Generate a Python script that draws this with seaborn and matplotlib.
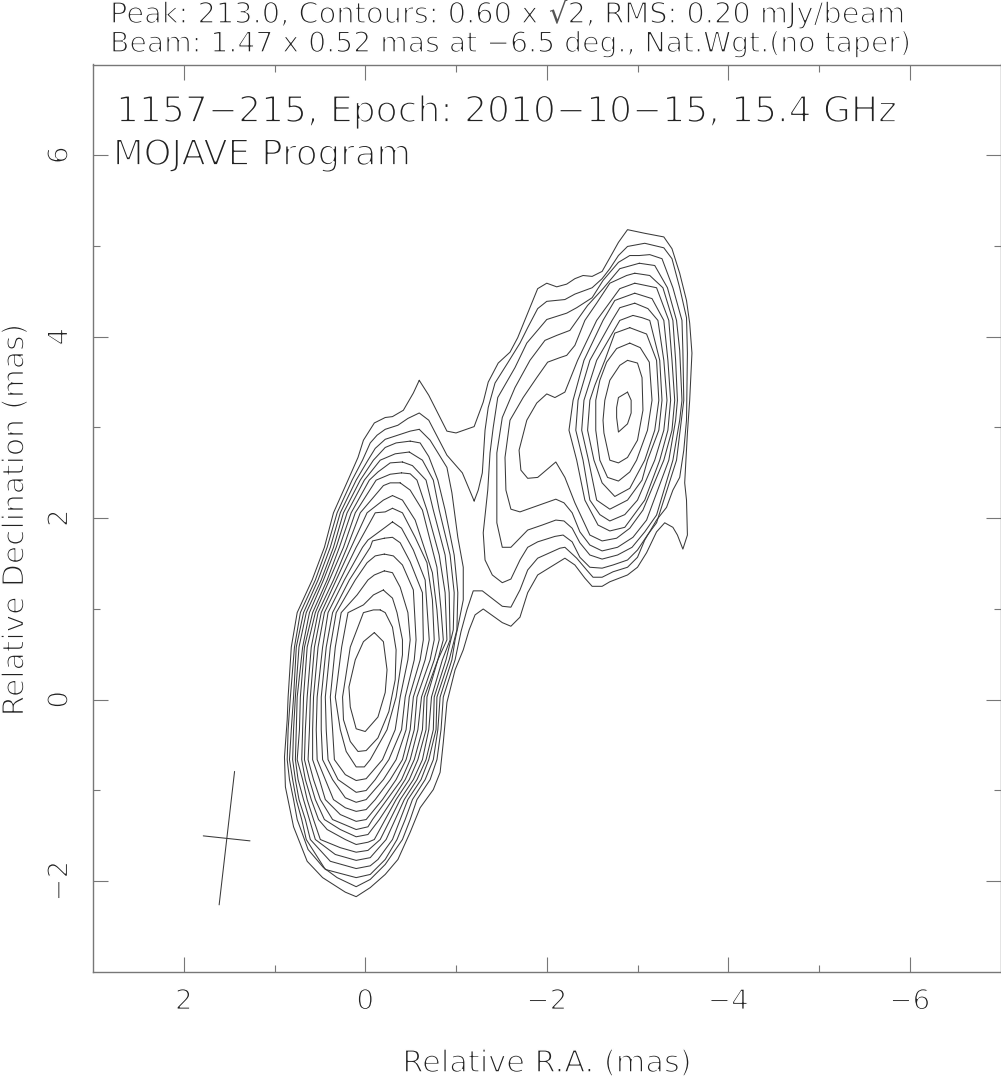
import matplotlib
matplotlib.use("Agg")
import matplotlib.pyplot as plt
import matplotlib.patheffects as pe
from matplotlib.ticker import FixedLocator
import seaborn as sns

# contour outlines, relative R.A. and Dec in mas
# core rings, innermost first
core01_ra = [-0.10, -0.20, -0.24, -0.22, -0.14, 0.00, 0.10, 0.165, 0.18, 0.11, 0.02]
core01_dec = [0.74, 0.64, 0.33, 0.08, -0.19, -0.35, -0.32, -0.08, 0.14, 0.44, 0.64]
core02_ra = [-.165, -.09, .02, .165, .25, .24, .165, .08, -.01, -.14, -.26, -.33, -.34, -.30, -.22]
core02_dec = [.99, .99, .96, .58, .03, -.22, -.46, -.57, -.56, -.42, -.13, .22, .55, .80, .96]
core03_ra = [-.20, -.09, .02, .19, .26, .33, .275, .21, .10, .01, -.055, -.24, -.34, -.41, -.41, -.35, -.30, -.22]
core03_dec = [1.21, 1.155, 1.045, .96, .58, .03, -.33, -.57, -.74, -.74, -.66, -.33, .03, .495, .66, .96, 1.12, 1.19]
core04_ra = [-.21, -.10, -.03, .09, .265, .33, .385, .36, .34, .22, .10, -.01, -.19, -.33, -.385, -.47, -.495, -.47, -.385, -.30]
core04_dec = [1.42, 1.375, 1.32, 1.155, .96, .58, .03, -.33, -.66, -.825, -.89, -.87, -.66, -.33, .03, .44, .66, .96, 1.24, 1.40]
core05_ra = [-.21, -.11, -.02, .11, .32, .385, .44, .43, .41, .30, .10, -.01, -.11, -.26, -.40, -.44, -.54, -.56, -.53, -.41, -.31]
core05_dec = [1.605, 1.585, 1.51, 1.32, .96, .58, .03, -.33, -.66, -.88, -1.02, -1.00, -.88, -.66, -.33, .03, .44, .66, 1.21, 1.485, 1.585]
core06_ra = [-.21, -.08, -.055, .175, .36, .43, .485, .485, .47, .36, .22, .10, -.01, -.20, -.34, -.45, -.485, -.605, -.64, -.63, -.495, -.385, -.30]
core06_dec = [1.78, 1.75, 1.68, 1.32, .96, .58, .03, -.33, -.66, -.88, -1.08, -1.13, -1.10, -.88, -.66, -.33, .03, .44, .66, 1.18, 1.52, 1.73, 1.79]
core07_ra = [-.30, -.22, -.03, .03, .23, .41, .47, .53, .54, .53, .44, .35, .22, .10, -.01, -.11, -.275, -.41, -.495, -.53, -.66, -.705, -.66, -.53, -.40]
core07_dec = [1.96, 1.90, 1.76, 1.68, 1.32, .96, .58, .03, -.33, -.66, -.88, -1.10, -1.19, -1.23, -1.21, -1.10, -.88, -.66, -.33, .03, .44, .66, 1.32, 1.65, 1.89]
core08_ra = [-.30, -.22, -.11, .10, .275, .45, .52, .57, .58, .58, .505, .44, .275, .10, -.01, -.19, -.34, -.45, -.54, -.57, -.715, -.76, -.74, -.68, -.55, -.41]
core08_dec = [2.11, 2.07, 2.06, 1.68, 1.32, .96, .58, .03, -.33, -.66, -.88, -1.10, -1.265, -1.34, -1.32, -1.10, -.88, -.66, -.33, .03, .44, .66, 1.10, 1.51, 1.79, 2.06]
core09_ra = [-.30, -.20, -.02, .155, .32, .485, .56, .605, .615, .63, .57, .495, .36, .10, -.03, -.08, -.24, -.40, -.495, -.58, -.62, -.76, -.815, -.79, -.74, -.55, -.41]
core09_dec = [2.25, 2.20, 2.06, 1.68, 1.32, .96, .58, .03, -.33, -.66, -.88, -1.10, -1.32, -1.43, -1.40, -1.32, -1.10, -.88, -.66, -.33, .03, .44, .66, .99, 1.40, 1.98, 2.20]
core10_ra = [-.385, -.275, -.20, .055, .20, .35, .52, .595, .64, .66, .67, .615, .55, .45, .275, .10, -.03, -.155, -.30, -.44, -.54, -.63, -.65, -.80, -.86, -.835, -.79, -.63, -.495]
core10_dec = [2.39, 2.39, 2.36, 2.06, 1.68, 1.32, .96, .58, .03, -.33, -.66, -.88, -1.10, -1.32, -1.43, -1.51, -1.485, -1.32, -1.10, -.88, -.66, -.33, .03, .44, .66, .99, 1.46, 2.09, 2.31]
core11_ra = [-.40, -.275, -.12, .11, .24, .395, .55, .64, .68, .69, .70, .66, .595, .515, .42, .22, .10, -.03, -.10, -.22, -.34, -.485, -.58, -.67, -.68, -.80, -.90, -.88, -.815, -.68, -.57, -.495]
core11_dec = [2.50, 2.485, 2.42, 2.06, 1.68, 1.32, .96, .58, .03, -.33, -.66, -.88, -1.10, -1.32, -1.43, -1.54, -1.595, -1.57, -1.54, -1.32, -1.10, -.88, -.66, -.33, .03, .44, .66, 1.18, 1.595, 2.09, 2.42, 2.49]
core12_ra = [-.41, -.275, -.14, -.045, .155, .285, .42, .58, .67, .715, .725, .75, .69, .64, .57, .495, .275, .10, -.03, -.165, -.275, -.385, -.53, -.63, -.70, -.73, -.85, -.935, -.925, -.88, -.75, -.67, -.52]
core12_dec = [2.62, 2.61, 2.51, 2.42, 2.06, 1.68, 1.32, .96, .58, .03, -.33, -.66, -.88, -1.10, -1.32, -1.54, -1.63, -1.68, -1.66, -1.54, -1.32, -1.10, -.88, -.66, -.33, .03, .44, .66, 1.18, 1.595, 2.09, 2.42, 2.58]
core13_ra = [-.485, -.33, -.165, .01, .20, .32, .46, .615, .69, .75, .76, .77, .74, .68, .615, .55, .33, .10, -.055, -.23, -.33, -.43, -.57, -.67, -.75, -.76, -.89, -.97, -.98, -.935, -.815, -.75, -.63]
core13_dec = [2.73, 2.71, 2.64, 2.42, 2.06, 1.68, 1.32, .96, .58, .03, -.33, -.66, -.88, -1.10, -1.32, -1.54, -1.705, -1.77, -1.74, -1.54, -1.32, -1.10, -.88, -.66, -.33, .03, .44, .77, 1.18, 1.595, 2.09, 2.42, 2.64]
core14_ra = [-.495, -.34, -.22, -.09, .055, .24, .35, .485, .65, .73, .77, .79, .80, .77, .73, .66, .605, .385, .10, -.055, -.14, -.30, -.385, -.47, -.615, -.70, -.78, -.79, -.925, -1.01, -1.02, -.98, -.88, -.80, -.70, -.605]
core14_dec = [2.85, 2.83, 2.78, 2.64, 2.42, 2.06, 1.68, 1.32, .96, .58, .03, -.33, -.66, -.88, -1.10, -1.32, -1.54, -1.78, -1.86, -1.83, -1.76, -1.54, -1.32, -1.10, -.88, -.66, -.33, .03, .44, .77, 1.18, 1.595, 2.09, 2.42, 2.68, 2.83]
core15_ra = [-.595, -.495, -.22, -.11, -.03, .10, .275, .385, .52, .68, .76, .79, .815, .835, .80, .76, .70, .65, .44, .10, -.055, -.22, -.35, -.44, -.52, -.66, -.75, -.80, -.825, -.955, -.99, -1.02, -1.08, -1.08, -1.02, -.955, -.90, -.715]
core15_dec = [2.98, 2.96, 2.87, 2.77, 2.64, 2.42, 2.06, 1.68, 1.32, .96, .58, .03, -.33, -.66, -.88, -1.10, -1.32, -1.54, -1.87, -1.96, -1.925, -1.76, -1.54, -1.32, -1.10, -.88, -.66, -.33, .03, .44, .66, .80, 1.10, 1.46, 1.79, 2.28, 2.56, 2.86]

# jet rings, innermost first
jet01_ra = [-2.89, -2.79, -2.77, -2.77, -2.79, -2.89, -2.93, -2.93]
jet01_dec = [3.39, 3.33, 3.22, 3.11, 2.95, 3.04, 3.16, 3.30]
jet02_ra = [-2.89, -2.805, -2.695, -2.64, -2.62, -2.63, -2.695, -2.79, -2.89, -3.00, -3.06, -3.05, -3.00]
jet02_dec = [3.74, 3.685, 3.52, 3.30, 3.08, 2.94, 2.64, 2.61, 2.67, 2.86, 3.19, 3.55, 3.71]
jet03_ra = [-2.915, -2.77, -2.66, -2.585, -2.54, -2.54, -2.585, -2.67, -2.79, -2.915, -2.99, -3.11, -3.16, -3.13, -3.03]
jet03_dec = [3.93, 3.87, 3.72, 3.52, 3.30, 2.97, 2.64, 2.45, 2.41, 2.51, 2.64, 2.97, 3.30, 3.72, 3.88]
jet04_ra = [-2.915, -2.75, -2.64, -2.53, -2.475, -2.45, -2.52, -2.61, -2.75, -2.915, -3.08, -3.19, -3.235, -3.21, -3.10]
jet04_dec = [4.10, 4.04, 3.74, 3.465, 3.30, 2.97, 2.64, 2.39, 2.24, 2.33, 2.64, 2.97, 3.30, 3.74, 4.03]
jet05_ra = [-2.95, -2.805, -2.55, -2.41, -2.385, -2.46, -2.55, -2.695, -2.89, -3.05, -3.11, -3.235, -3.27, -3.245, -3.135, -3.05]
jet05_dec = [4.235, 4.18, 3.74, 3.30, 2.97, 2.64, 2.20, 2.10, 2.20, 2.42, 2.64, 2.97, 3.30, 3.74, 4.18, 4.21]
jet06_ra = [-2.97, -2.805, -2.72, -2.475, -2.345, -2.32, -2.40, -2.475, -2.585, -2.695, -2.86, -3.00, -3.19, -3.29, -3.325, -3.29, -3.225, -3.115]
jet06_dec = [4.37, 4.32, 4.18, 3.74, 3.30, 2.97, 2.64, 2.20, 2.04, 1.97, 2.04, 2.20, 2.64, 2.97, 3.30, 3.74, 4.18, 4.31]
jet07_ra = [-2.97, -2.75, -2.62, -2.41, -2.29, -2.245, -2.33, -2.42, -2.565, -2.695, -2.86, -3.08, -3.245, -3.335, -3.365, -3.335, -3.29, -3.16]
jet07_dec = [4.48, 4.40, 4.18, 3.74, 3.30, 2.97, 2.64, 2.20, 1.925, 1.86, 1.90, 2.20, 2.64, 2.97, 3.30, 3.74, 4.18, 4.42]
jet08_ra = [-2.97, -2.805, -2.55, -2.34, -2.20, -2.09, -2.00, -1.89, -1.78, -1.695, -1.715, -1.79, -1.90, -2.10, -2.20, -2.31, -2.475, -2.61, -2.77, -2.915, -3.06, -3.29, -3.38, -3.41, -3.38, -3.345, -3.21]
jet08_dec = [4.59, 4.53, 4.18, 3.74, 3.39, 3.33, 3.37, 3.27, 3.08, 2.75, 2.53, 2.44, 2.45, 2.62, 2.45, 2.17, 1.815, 1.75, 1.78, 1.89, 2.09, 2.64, 2.97, 3.30, 3.74, 4.18, 4.54]
jet09_ra = [-2.97, -2.88, -2.695, -2.55, -2.42, -2.31, -2.22, -2.145, -2.01, -1.89, -1.74, -1.595, -1.54, -1.55, -1.605, -1.705, -2.10, -2.19, -2.28, -2.365, -2.475, -2.61, -2.78, -2.95, -3.10, -3.345, -3.42, -3.44, -3.42, -3.39, -3.28, -3.135]
jet09_dec = [4.70, 4.675, 4.59, 4.37, 4.18, 3.905, 3.795, 3.77, 3.72, 3.55, 3.33, 3.08, 2.67, 2.31, 2.10, 2.07, 2.21, 2.17, 2.06, 1.85, 1.705, 1.64, 1.68, 1.79, 1.98, 2.64, 3.08, 3.30, 3.74, 4.18, 4.54, 4.675]
jet10_ra = [-3.02, -2.805, -2.62, -2.45, -2.255, -2.11, -1.98, -1.815, -1.65, -1.51, -1.45, -1.45, -1.45, -1.51, -1.605, -1.79, -1.95, -2.10, -2.19, -2.28, -2.365, -2.475, -2.61, -2.78, -2.94, -3.08, -3.21, -3.39, -3.465, -3.49, -3.465, -3.43, -3.33, -3.19]
jet10_dec = [4.81, 4.75, 4.53, 4.345, 4.07, 4.015, 3.96, 3.74, 3.44, 3.11, 2.72, 2.31, 1.95, 1.68, 1.68, 1.87, 1.925, 1.98, 1.97, 1.89, 1.73, 1.595, 1.55, 1.595, 1.68, 1.85, 2.035, 2.64, 3.08, 3.30, 3.85, 4.18, 4.54, 4.785]
jet11_ra = [-3.02, -2.915, -2.79, -2.62, -2.50, -2.33, -2.22, -2.00, -1.78, -1.65, -1.46, -1.41, -1.375, -1.35, -1.30, -1.32, -1.40, -1.51, -1.605, -1.705, -1.79, -1.90, -2.09, -2.18, -2.28, -2.365, -2.475, -2.61, -2.73, -2.89, -3.00, -3.11, -3.21, -3.43, -3.51, -3.50, -3.49, -3.39, -3.27, -3.135]
jet11_dec = [4.895, 4.895, 4.82, 4.62, 4.43, 4.32, 4.26, 4.19, 3.93, 3.66, 3.33, 3.00, 2.72, 2.31, 1.84, 1.54, 1.375, 1.29, 1.33, 1.54, 1.68, 1.74, 1.80, 1.815, 1.74, 1.57, 1.46, 1.45, 1.485, 1.54, 1.65, 1.815, 1.95, 2.64, 3.30, 3.85, 4.18, 4.54, 4.86, 4.905]

# the two lowest levels wrap core and jet together
joint01_ra = [-1.20, -1.245, -1.29, -1.32, -1.355, -1.43, -1.575, -1.705, -1.79, -1.90, -2.00, -2.20, -2.31, -2.50, -2.61, -2.695, -2.79, -2.89, -3.08, -3.29, -3.38, -3.465, -3.54, -3.55, -3.54, -3.51, -3.465, -3.39, -3.32, -3.21, -3.08, -3.00, -2.89, -2.73, -2.61, -2.51, -2.44, -2.33, -2.20, -2.145, -1.90, -1.79, -1.705, -1.605, -1.51, -1.29, -1.19, -1.12, -1.055, -.99, -.86, -.835, -.79, -.715, -.57, -.495, -.41, -.22, -.055, .10, .31, .46, .63, .75, .79, .835, .86, .85, .825, .78, .715, .55, .42, .31, .145, .03, -.055, -.13, -.22, -.36, -.47, -.595, -.70, -.90, -1.07]
joint01_dec = [2.19, 2.31, 2.50, 2.97, 3.22, 3.49, 3.72, 3.93, 4.10, 4.31, 4.39, 4.41, 4.47, 4.54, 4.64, 4.75, 4.895, 4.995, 5.03, 4.98, 4.86, 4.54, 4.21, 3.82, 3.08, 2.75, 2.45, 2.31, 2.12, 1.98, 1.76, 1.57, 1.46, 1.41, 1.35, 1.35, 1.43, 1.56, 1.68, 1.67, 1.56, 1.43, 1.21, 1.02, 1.03, 1.20, 1.20, .99, .75, .44, .03, -.33, -.66, -.88, -1.10, -1.32, -1.54, -1.815, -1.98, -2.06, -1.96, -1.85, -1.65, -1.32, -1.10, -.88, -.66, -.33, .03, .58, .96, 1.32, 1.68, 2.06, 2.42, 2.64, 2.83, 2.915, 2.98, 3.025, 3.10, 3.16, 3.08, 2.695, 2.50]
joint02_ra = [-.595, -.70, -.90, -1.00, -1.20, -1.30, -1.355, -1.465, -1.595, -1.68, -1.79, -1.90, -2.00, -2.11, -2.22, -2.31, -2.40, -2.50, -2.61, -2.695, -2.79, -2.89, -3.08, -3.29, -3.38, -3.465, -3.54, -3.575, -3.60, -3.575, -3.55, -3.52, -3.54, -3.55, -3.50, -3.44, -3.39, -3.30, -3.21, -3.10, -3.00, -2.89, -2.695, -2.61, -2.50, -2.42, -2.31, -2.20, -1.90, -1.79, -1.705, -1.605, -1.51, -1.30, -1.21, -1.145, -1.08, -.99, -.90, -.86, -.825, -.75, -.605, -.495, -.36, -.22, -.055, .10, .22, .47, .64, .79, .88, .89, .86, .85, .815, .75, .585, .45, .35, .19, .08, .02, -.10, -.22, -.30, -.42, -.53]
joint02_dec = [3.52, 3.355, 2.96, 2.94, 3.01, 3.28, 3.50, 3.71, 3.83, 3.99, 4.26, 4.53, 4.59, 4.55, 4.58, 4.64, 4.675, 4.665, 4.72, 4.87, 5.04, 5.18, 5.14, 5.10, 4.97, 4.70, 4.40, 4.15, 3.82, 3.30, 2.94, 2.39, 2.20, 1.815, 1.66, 1.815, 1.90, 1.95, 1.85, 1.62, 1.46, 1.375, 1.30, 1.25, 1.25, 1.34, 1.485, 1.56, 1.375, 1.18, .91, .81, .85, 1.00, .935, .77, .55, .33, -.03, -.47, -.80, -.99, -1.19, -1.46, -1.76, -1.925, -2.07, -2.17, -2.12, -1.96, -1.78, -1.40, -.96, -.63, -.22, .03, .58, .96, 1.32, 1.68, 2.06, 2.42, 2.67, 2.86, 3.05, 3.11, 3.12, 3.19, 3.38]

# restoring beam cross
beam_major_ra = [1.44, 1.61]
beam_major_dec = [-0.79, -2.26]
beam_minor_ra = [1.785, 1.27]
beam_minor_dec = [-1.50, -1.555]

x_major = [2, 0, -2, -4, -6]
x_minor = [1, -1, -3, -5]
y_major = [-2, 0, 2, 4, 6]
y_minor = [-1, 1, 3, 5]
x_labels = ["2", "0", "\u22122", "\u22124", "\u22126"]
y_labels = ["\u22122", "0", "2", "4", "6"]

rings = [
    (core01_ra, core01_dec), (core02_ra, core02_dec), (core03_ra, core03_dec),
    (core04_ra, core04_dec), (core05_ra, core05_dec), (core06_ra, core06_dec),
    (core07_ra, core07_dec), (core08_ra, core08_dec), (core09_ra, core09_dec),
    (core10_ra, core10_dec), (core11_ra, core11_dec), (core12_ra, core12_dec),
    (core13_ra, core13_dec), (core14_ra, core14_dec), (core15_ra, core15_dec),
    (jet01_ra, jet01_dec), (jet02_ra, jet02_dec), (jet03_ra, jet03_dec),
    (jet04_ra, jet04_dec), (jet05_ra, jet05_dec), (jet06_ra, jet06_dec),
    (jet07_ra, jet07_dec), (jet08_ra, jet08_dec), (jet09_ra, jet09_dec),
    (jet10_ra, jet10_dec), (jet11_ra, jet11_dec),
    (joint01_ra, joint01_dec), (joint02_ra, joint02_dec),
]

sns.set_theme(style="white")
plt.rcParams['font.family'] = ['DejaVu Sans']

W, H = 1001, 1079
text_col = '#222222'
frame_col = '#777777'
line_col = '#3a3a3a'

fig = plt.figure(figsize=(W / 100, H / 100), dpi=100)
ax = fig.add_axes([93 / W, 1 - 972 / H, 907.5 / W, 907.5 / H])

for ra, dec in rings:
    # close the outline
    sns.lineplot(x=ra + ra[:1], y=dec + dec[:1], sort=False, estimator=None,
                 color=line_col, linewidth=0.75, ax=ax)

sns.lineplot(x=beam_major_ra, y=beam_major_dec, sort=False, estimator=None,
             color=line_col, linewidth=0.75, ax=ax)
sns.lineplot(x=beam_minor_ra, y=beam_minor_dec, sort=False, estimator=None,
             color=line_col, linewidth=0.75, ax=ax)

ax.set_xlim(3, -7)
ax.set_ylim(-3, 7)
ax.xaxis.set_major_locator(FixedLocator(x_major))
ax.xaxis.set_minor_locator(FixedLocator(x_minor))
ax.yaxis.set_major_locator(FixedLocator(y_major))
ax.yaxis.set_minor_locator(FixedLocator(y_minor))
ax.set_xticklabels(x_labels)
ax.set_yticklabels(y_labels, rotation=90, va='center')
ax.tick_params(which='major', direction='in', length=10.5, width=0.8, color=frame_col,
               top=True, right=True, bottom=True, left=True)
ax.tick_params(which='minor', direction='in', length=5.2, width=0.8, color=frame_col,
               top=True, right=True, bottom=True, left=True)
ax.tick_params(axis='x', which='major', labelsize=20, labelcolor=text_col, pad=11)
ax.tick_params(axis='y', which='major', labelsize=20, labelcolor=text_col, pad=14)
for s in ax.spines.values():
    s.set_color(frame_col)
    s.set_linewidth(1.0)


def thin(t):
    # white outline eats into the glyphs, the map font is a one pixel pen
    t.set_path_effects([pe.Stroke(linewidth=0.05 * t.get_fontsize(), foreground='white')])


def fit(t, target_px):
    bb = t.get_window_extent(fig.canvas.get_renderer())
    t.set_fontsize(t.get_fontsize() * target_px / max(bb.width, bb.height))
    thin(t)


def text_width(s, size):
    probe = fig.text(0, 0, s, fontsize=size)
    w = probe.get_window_extent(fig.canvas.get_renderer()).width
    probe.remove()
    return w


fit(fig.text(110 / W, 1 - 52 / H, "Beam: 1.47 x 0.52 mas at \u22126.5 deg., Nat.Wgt.(no taper)",
             fontsize=20, color=text_col, ha='left', va='baseline'), 801)
fit(fig.text(116 / W, 1 - 122 / H, "1157\u2212215, Epoch: 2010\u221210\u221215, 15.4 GHz",
             fontsize=25, color=text_col, ha='left', va='baseline'), 782)
fit(fig.text(113 / W, 1 - 165 / H, "MOJAVE Program",
             fontsize=25, color=text_col, ha='left', va='baseline'), 298)
fit(fig.text(547 / W, 1 - 1072 / H, "Relative R.A. (mas)",
             fontsize=20, color=text_col, ha='center', va='baseline'), 289)
fit(fig.text(15 / W, 1 - 520 / H, "Relative Declination (mas)",
             fontsize=20, color=text_col, ha='center', va='center', rotation=90), 392)
for lab in ax.get_xticklabels() + ax.get_yticklabels():
    thin(lab)

# top line in three parts, the root sign is too fine for the thinning
peak_left = "Peak: 213.0, Contours: 0.60 x "
peak_root = "\u221a"
peak_right = "2, RMS: 0.20 mJy/beam"
peak_size = 20 * 794 / text_width(peak_left + peak_root + peak_right, 20)
root_x = 110 + text_width(peak_left, peak_size)
right_x = root_x + text_width(peak_root, peak_size) + 1
thin(fig.text(110 / W, 1 - 23 / H, peak_left.strip(), fontsize=peak_size, color=text_col,
              ha='left', va='baseline'))
fig.text(root_x / W, 1 - 23 / H, peak_root, fontsize=peak_size, color='#555555',
         ha='left', va='baseline')
thin(fig.text(right_x / W, 1 - 23 / H, peak_right, fontsize=peak_size, color=text_col,
              ha='left', va='baseline'))

fig.savefig("out.png", dpi=100)
